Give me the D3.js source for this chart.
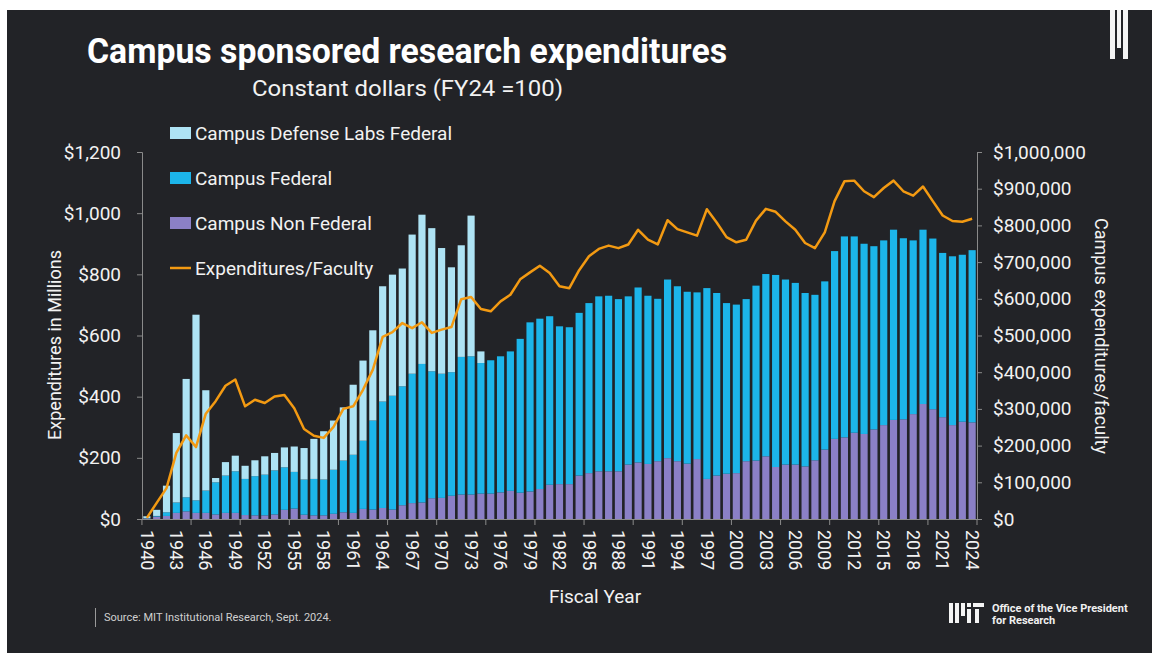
<!DOCTYPE html>
<html>
<head>
<meta charset="utf-8">
<script src="https://cdn.jsdelivr.net/npm/d3@7"></script>
<style>
  body { margin: 0; background: #ffffff; }
  svg { display: block; }
  text { font-family: Roboto, "Noto Sans", sans-serif; }
</style>
</head>
<body>
<div id="chart"></div>
<script>
// Fiscal years shown on the x axis
const years = d3.range(1940, 2025);

// Expenditures in millions (constant FY24 dollars)
const nonFederal = [
  2, 8, 10, 20, 25, 20, 20, 15, 20, 20,
  13, 12, 12, 15, 30, 34, 14, 12, 12, 17,
  22, 20, 33, 31, 36, 31, 45, 52, 54, 68,
  69, 76, 80, 80, 83, 83, 87, 92, 86, 90,
  98, 112, 114, 114, 142, 150, 156, 156, 156, 178,
  185, 180, 189, 199, 189, 181, 196, 131, 142, 148,
  150, 189, 191, 205, 170, 178, 178, 172, 192, 227,
  262, 267, 282, 278, 293, 307, 324, 326, 343, 376,
  359, 333, 307, 318, 316
];
const federal = [
  1, 2, 12, 34, 46, 41, 73, 105, 122, 136,
  118, 128, 133, 144, 139, 120, 115, 119, 117, 144,
  169, 190, 223, 291, 348, 372, 389, 423, 453, 415,
  406, 404, 450, 452, 427, 436, 445, 456, 503, 553,
  557, 551, 516, 513, 532, 556, 572, 574, 563, 550,
  572, 550, 531, 584, 572, 562, 545, 624, 597, 558,
  551, 530, 572, 596, 628, 605, 594, 567, 541, 550,
  614, 657, 642, 622, 599, 604, 622, 592, 568, 570,
  558, 537, 552, 546, 563
];
const defenseLabs = [
  6, 20, 87, 227, 387, 607, 328, 14, 44, 51,
  43, 52, 60, 57, 65, 83, 103, 131, 158, 161,
  174, 229, 262, 295, 377, 396, 385, 455, 488, 468,
  411, 343, 365, 460, 38, 0, 0, 0, 0, 0,
  0, 0, 0, 0, 0, 0, 0, 0, 0, 0,
  0, 0, 0, 0, 0, 0, 0, 0, 0, 0,
  0, 0, 0, 0, 0, 0, 0, 0, 0, 0,
  0, 0, 0, 0, 0, 0, 0, 0, 0, 0,
  0, 0, 0, 0, 0
];

// Campus expenditures per faculty, dollars
const perFaculty = [
  3000, 44000, 84000, 180000, 228000, 196000, 287000, 321000, 363000, 380000,
  307000, 325000, 316000, 334000, 338000, 302000, 245000, 227000, 221000, 251000,
  300000, 307000, 352000, 407000, 496000, 509000, 534000, 520000, 536000, 507000,
  516000, 523000, 599000, 605000, 572000, 566000, 593000, 611000, 653000, 672000,
  690000, 670000, 634000, 629000, 678000, 716000, 736000, 745000, 738000, 748000,
  788000, 761000, 748000, 814000, 790000, 781000, 772000, 844000, 808000, 768000,
  754000, 761000, 813000, 845000, 837000, 811000, 788000, 752000, 738000, 781000,
  866000, 920000, 922000, 893000, 877000, 902000, 922000, 893000, 881000, 906000,
  866000, 827000, 812000, 810000, 818000
];

const leftTicks = [0, 200, 400, 600, 800, 1000, 1200];
const rightTicks = d3.range(0, 1000001, 100000);
const labelYears = d3.range(1940, 2025, 3);

const seriesKeys = ['nonFederal', 'federal', 'defenseLabs'];
const seriesNames = {
  defenseLabs: 'Campus Defense Labs Federal',
  federal: 'Campus Federal',
  nonFederal: 'Campus Non Federal'
};
const colors = {
  nonFederal: '#8b80c6',
  federal: '#1cb5ea',
  defenseLabs: '#aee3f4'
};
const lineColor = '#f39a12';
const axisColor = '#8a8a8a';
const textColor = '#f2f2f2';

const width = 1152;
const height = 653;

const svg = d3.select('#chart')
  .append('svg')
  .attr('width', width)
  .attr('height', height);

// Dark panel
svg.append('rect')
  .attr('x', 7).attr('y', 10)
  .attr('width', width - 7).attr('height', height - 10)
  .attr('fill', '#222327');

// Table for stacking
const table = years.map((y, i) => ({
  year: y,
  nonFederal: nonFederal[i],
  federal: federal[i],
  defenseLabs: defenseLabs[i]
}));

const x = d3.scaleBand()
  .domain(years)
  .range([142, 977])
  .paddingInner(0.27)
  .paddingOuter(0.13);

const yLeft = d3.scaleLinear().domain([0, 1200]).range([519, 152]);
const yRight = d3.scaleLinear().domain([0, 1000000]).range([519, 152]);

// Stacked bars
const stacked = d3.stack().keys(seriesKeys)(table);
svg.append('g')
  .selectAll('g')
  .data(stacked)
  .enter()
  .append('g')
  .attr('fill', d => colors[d.key])
  .selectAll('rect')
  .data(d => d)
  .enter()
  .append('rect')
  .attr('x', d => x(d.data.year))
  .attr('width', x.bandwidth())
  .attr('y', d => yLeft(d[1]))
  .attr('height', d => Math.max(0, yLeft(d[0]) - yLeft(d[1])));

// Line: expenditures per faculty
const line = d3.line()
  .x((d, i) => x(years[i]) + x.bandwidth() / 2)
  .y(d => yRight(d));

svg.append('path')
  .datum(perFaculty)
  .attr('d', line)
  .attr('fill', 'none')
  .attr('stroke', lineColor)
  .attr('stroke-width', 2.5)
  .attr('stroke-linejoin', 'round');

// Left axis
const leftAxis = svg.append('g')
  .attr('transform', 'translate(142,0)')
  .call(d3.axisLeft(yLeft)
    .tickValues(leftTicks)
    .tickSize(5)
    .tickPadding(16)
    .tickFormat(d => '$' + d3.format(',')(d)));

// Right axis
const rightAxis = svg.append('g')
  .attr('transform', 'translate(977,0)')
  .call(d3.axisRight(yRight)
    .tickValues(rightTicks)
    .tickSize(5)
    .tickPadding(11)
    .tickFormat(d => '$' + d3.format(',')(d)));

[leftAxis, rightAxis].forEach(g => {
  g.selectAll('path, line').attr('stroke', axisColor);
  g.selectAll('text')
    .attr('fill', textColor)
    .style('font-size', '19px');
});

// Bottom axis: line, ticks every 5 years, labels every 3 years
const bottom = svg.append('g');
bottom.append('line')
  .attr('x1', 142).attr('x2', 977)
  .attr('y1', 519.5).attr('y2', 519.5)
  .attr('stroke', axisColor);

const tickYears = years.filter(y => y % 5 === 0);
bottom.selectAll('line.tick')
  .data(tickYears)
  .enter()
  .append('line')
  .attr('class', 'tick')
  .attr('x1', d => x(d) - x.step() * x.paddingInner() / 2)
  .attr('x2', d => x(d) - x.step() * x.paddingInner() / 2)
  .attr('y1', 519).attr('y2', 525)
  .attr('stroke', axisColor);
bottom.append('line')
  .attr('x1', 977).attr('x2', 977)
  .attr('y1', 519).attr('y2', 525)
  .attr('stroke', axisColor);

bottom.selectAll('text')
  .data(labelYears)
  .enter()
  .append('text')
  .attr('transform', d => `translate(${x(d) + x.bandwidth() / 2},530) rotate(90)`)
  .attr('dy', '0.35em')
  .attr('text-anchor', 'start')
  .attr('fill', textColor)
  .style('font-size', '18px')
  .text(d => d);

// Axis titles
svg.append('text')
  .attr('x', 595).attr('y', 603)
  .attr('text-anchor', 'middle')
  .attr('fill', textColor)
  .style('font-size', '19px')
  .text('Fiscal Year');

svg.append('text')
  .attr('transform', 'translate(61,345) rotate(-90)')
  .attr('text-anchor', 'middle')
  .attr('fill', textColor)
  .style('font-size', '18px')
  .text('Expenditures in Millions');

svg.append('text')
  .attr('transform', 'translate(1095,336) rotate(90)')
  .attr('text-anchor', 'middle')
  .attr('fill', textColor)
  .style('font-size', '18px')
  .text('Campus expenditures/faculty');

// Title and subtitle
svg.append('text')
  .attr('x', 87).attr('y', 63)
  .attr('fill', '#ffffff')
  .attr('textLength', 640)
  .attr('lengthAdjust', 'spacingAndGlyphs')
  .style('font-family', '"Liberation Sans Narrow", Roboto, sans-serif')
  .style('font-weight', 'bold')
  .style('font-size', '35px')
  .text('Campus sponsored research expenditures');

svg.append('text')
  .attr('x', 252).attr('y', 96)
  .attr('fill', textColor)
  .attr('textLength', 311)
  .attr('lengthAdjust', 'spacingAndGlyphs')
  .style('font-size', '22px')
  .text('Constant dollars (FY24 =100)');

// Legend
const legendItems = [
  { key: 'defenseLabs', y: 133 },
  { key: 'federal', y: 178 },
  { key: 'nonFederal', y: 223 }
];
const legend = svg.append('g');
legendItems.forEach(item => {
  legend.append('rect')
    .attr('x', 170).attr('y', item.y - 6)
    .attr('width', 21).attr('height', 12)
    .attr('fill', colors[item.key]);
  legend.append('text')
    .attr('x', 195).attr('y', item.y)
    .attr('dy', '0.35em')
    .attr('fill', textColor)
    .style('font-size', '19px')
    .text(seriesNames[item.key]);
});
legend.append('line')
  .attr('x1', 170).attr('x2', 191)
  .attr('y1', 268).attr('y2', 268)
  .attr('stroke', lineColor)
  .attr('stroke-width', 2.5);
legend.append('text')
  .attr('x', 195).attr('y', 268)
  .attr('dy', '0.35em')
  .attr('fill', textColor)
  .style('font-size', '19px')
  .text('Expenditures/Faculty');

// Source note
svg.append('line')
  .attr('x1', 95.5).attr('x2', 95.5)
  .attr('y1', 608).attr('y2', 627)
  .attr('stroke', '#9a9a9a');
svg.append('text')
  .attr('x', 104).attr('y', 621)
  .attr('fill', '#d0d0d0')
  .style('font-size', '11px')
  .text('Source: MIT Institutional Research, Sept. 2024.');

// Top-right mark
const mark = svg.append('g').attr('fill', '#f4f4f4');
mark.append('rect').attr('x', 1110).attr('y', 10).attr('width', 5).attr('height', 49);
mark.append('rect').attr('x', 1117).attr('y', 10).attr('width', 4).attr('height', 38);
mark.append('rect').attr('x', 1123).attr('y', 10).attr('width', 5).attr('height', 49);

// MIT logo, bottom right
const logo = svg.append('g').attr('fill', '#f4f4f4');
logo.append('rect').attr('x', 949).attr('y', 603).attr('width', 4).attr('height', 20);
logo.append('rect').attr('x', 955).attr('y', 603).attr('width', 4).attr('height', 20);
logo.append('rect').attr('x', 961).attr('y', 603).attr('width', 4).attr('height', 13);
logo.append('rect').attr('x', 967).attr('y', 603).attr('width', 4).attr('height', 4);
logo.append('rect').attr('x', 967).attr('y', 609).attr('width', 4).attr('height', 14);
logo.append('rect').attr('x', 973).attr('y', 603).attr('width', 11).attr('height', 4);
logo.append('rect').attr('x', 975).attr('y', 609).attr('width', 4).attr('height', 14);
svg.append('text')
  .attr('x', 992).attr('y', 612)
  .attr('fill', '#f0f0f0')
  .style('font-size', '11px')
  .style('font-weight', 'bold')
  .text('Office of the Vice President');
svg.append('text')
  .attr('x', 992).attr('y', 624)
  .attr('fill', '#f0f0f0')
  .style('font-size', '11px')
  .style('font-weight', 'bold')
  .text('for Research');
</script>
</body>
</html>
